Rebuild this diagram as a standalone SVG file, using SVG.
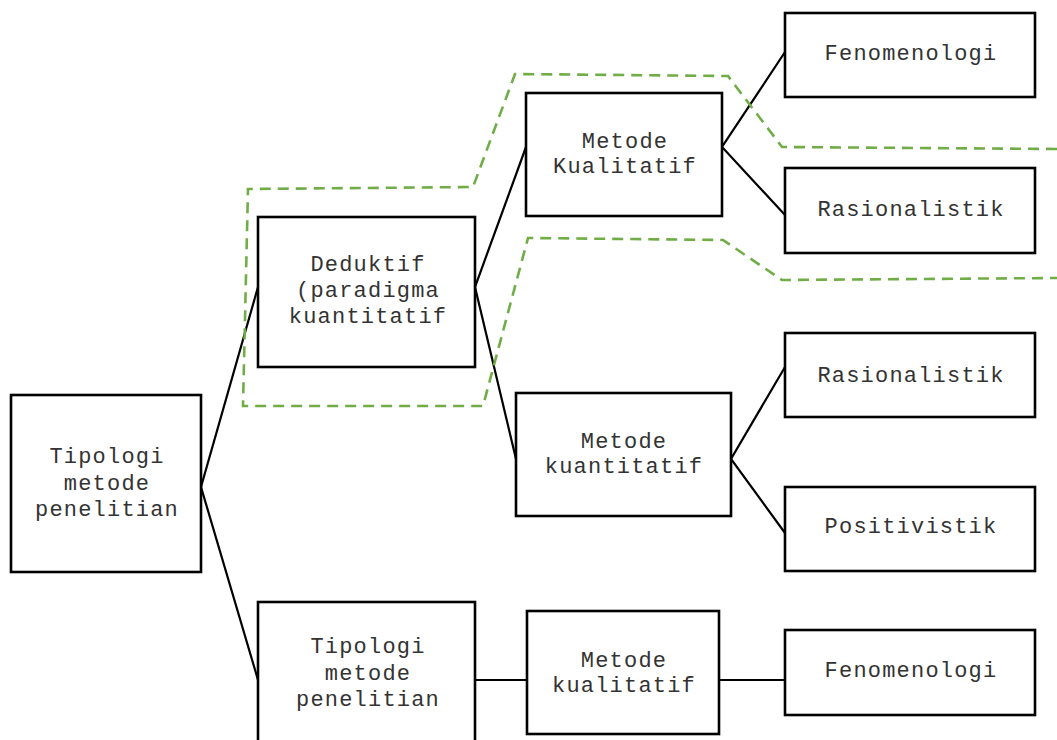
<svg xmlns="http://www.w3.org/2000/svg" width="1057" height="740" viewBox="0 0 1057 740">
<style>
.box{fill:#fff;stroke:#000;stroke-width:2.6}
.lbl{font-family:"Liberation Mono","Courier New",monospace;font-size:22px;fill:#333;text-anchor:middle;letter-spacing:1.2px}
.conn{stroke:#000;stroke-width:2.2;fill:none}
.zone{fill:none;stroke:#70AD47;stroke-width:2.6;stroke-dasharray:11 7}
</style>
<rect width="1057" height="740" fill="#fff"/>
<g id="connectors">
<polyline class="conn" points="258,287 201,487 258,680"/>
<polyline class="conn" points="526,147 475,287 516,459"/>
<polyline class="conn" points="785,52 722,147 785,215"/>
<polyline class="conn" points="785,367 731,459 785,533"/>
<line class="conn" x1="475" y1="680" x2="527" y2="680"/>
<line class="conn" x1="719" y1="680" x2="785" y2="680"/>
</g>
<g id="root">
<rect class="box" x="11" y="395" width="190" height="177"/>
<text class="lbl" x="107" y="463">Tipologi</text>
<text class="lbl" x="107" y="490">metode</text>
<text class="lbl" x="107" y="516">penelitian</text>
</g>
<g id="deduktif">
<rect class="box" x="258" y="217" width="217" height="150"/>
<text class="lbl" x="368" y="271">Deduktif</text>
<text class="lbl" x="368" y="297">(paradigma</text>
<text class="lbl" x="368" y="323">kuantitatif</text>
</g>
<g id="tipologi2">
<rect class="box" x="258" y="602" width="217" height="150"/>
<text class="lbl" x="368" y="653">Tipologi</text>
<text class="lbl" x="368" y="680">metode</text>
<text class="lbl" x="368" y="706">penelitian</text>
</g>
<g id="metode-kualitatif-1">
<rect class="box" x="526" y="93" width="196" height="123"/>
<text class="lbl" x="625" y="148">Metode</text>
<text class="lbl" x="625" y="173">Kualitatif</text>
</g>
<g id="metode-kuantitatif">
<rect class="box" x="516" y="393" width="215" height="123"/>
<text class="lbl" x="624" y="448">Metode</text>
<text class="lbl" x="624" y="473">kuantitatif</text>
</g>
<g id="metode-kualitatif-2">
<rect class="box" x="527" y="611" width="192" height="123"/>
<text class="lbl" x="624" y="667">Metode</text>
<text class="lbl" x="624" y="692">kualitatif</text>
</g>
<g id="fenomenologi-1">
<rect class="box" x="785" y="13" width="250" height="84"/>
<text class="lbl" x="911" y="60">Fenomenologi</text>
</g>
<g id="rasionalistik-1">
<rect class="box" x="785" y="168" width="250" height="85"/>
<text class="lbl" x="911" y="216">Rasionalistik</text>
</g>
<g id="rasionalistik-2">
<rect class="box" x="785" y="333" width="250" height="84"/>
<text class="lbl" x="911" y="382">Rasionalistik</text>
</g>
<g id="positivistik">
<rect class="box" x="785" y="487" width="250" height="84"/>
<text class="lbl" x="911" y="533">Positivistik</text>
</g>
<g id="fenomenologi-2">
<rect class="box" x="785" y="630" width="250" height="85"/>
<text class="lbl" x="911" y="677">Fenomenologi</text>
</g>
<g id="zone">
<polyline class="zone" points="1057,149 782,147 728,76 515,74 473,187 248,189 243,406 483,406 528,238 723,240 782,280 1057,278"/>
</g>
</svg>
